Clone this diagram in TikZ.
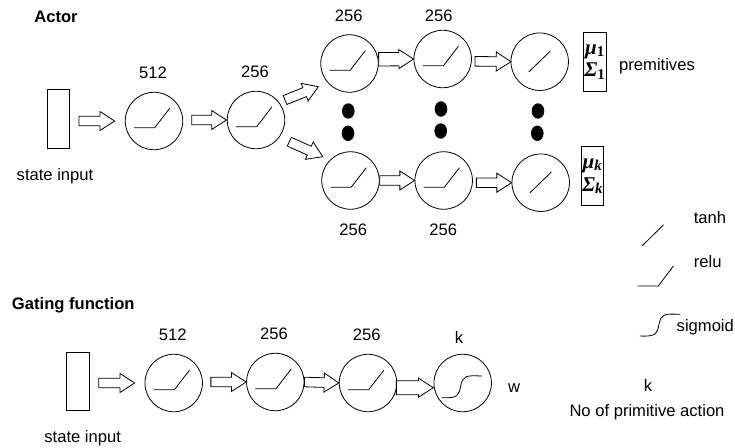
\documentclass[tikz,border=0pt]{standalone}
\usepackage{fontspec}
\setmainfont{Liberation Sans}
\newfontfamily\gk{Liberation Serif}
\usetikzlibrary{calc}
\tikzset{
  x=1pt,y=-1pt,
  every node/.style={inner sep=0pt,font=\fontsize{16.6}{18}\selectfont},
  ttl/.style={font=\fontsize{16.6}{18}\selectfont\bfseries},
  neuron/.style={draw,circle,minimum size=57.5pt,line width=0.8pt},
  inbox/.style={draw,rectangle,minimum width=22.7pt,minimum height=58.5pt,line width=0.8pt},
  outbox/.style={draw,rectangle,minimum width=22.7pt,minimum height=59pt,line width=0.8pt,align=center,font=\fontsize{21}{22.7}\selectfont},
  dotnode/.style={fill=black,circle,minimum size=14pt,xscale=.9,yscale=1.1},
  curve/.style={line width=0.8pt,line cap=round},
  barrow/.style={draw,line width=0.8pt,line join=miter,fill=white,to path={
    let \p1=(\tikztostart),\p2=(\tikztotarget),
        \n1={atan2(\y2-\y1,\x2-\x1)},\n2={veclen(\y2-\y1,\x2-\x1)} in
    ($(\p1)+(\n1+90:#1)$) -- ($(\p1)+(\n1:\n2-14.7pt)+(\n1+90:#1)$)
    -- ($(\p1)+(\n1:\n2-14.7pt)+(\n1+90:9.5pt)$) -- (\p2)
    -- ($(\p1)+(\n1:\n2-14.7pt)+(\n1-90:9.5pt)$)
    -- ($(\p1)+(\n1:\n2-14.7pt)+(\n1-90:#1)$) -- ($(\p1)+(\n1-90:#1)$) -- cycle}},
  barrow/.default=4.8pt,
}
\newcommand{\relu}[1]{\draw[curve] ($(#1)+(-19.7,6.7)$) -- ($(#1)+(0.7,6.7)$) -- ($(#1)+(15.7,-12.7)$);}
\newcommand{\tanhc}[1]{\draw[curve] ($(#1)+(-10.7,10)$) -- ($(#1)+(10.7,-10.7)$);}
\newcommand{\mysig}[1]{\draw[curve] ($(#1)+(-21,14.7)$) .. controls ($(#1)+(-4,15.5)$) and ($(#1)+(-4,12)$) .. ($(#1)+(-2,3)$) .. controls ($(#1)+(0,-8)$) and ($(#1)+(4,-7.5)$) .. ($(#1)+(19,-7)$);}
\newcommand{\gmath}[2]{{\bfseries\gk\fontsize{21}{22.7}\selectfont\itshape #1\raisebox{-2.5pt}{\fontsize{15}{15}\selectfont #2}}}
\begin{document}
\begin{tikzpicture}
\useasboundingbox (0,0) rectangle (735,447);
% Actor
\node[ttl] (tA) at (56,16.7) {Actor};
\node[inbox] (s1) at (58.5,119) {};
\node (sl1) at (55,176.5) {state input};
\node[neuron] (a1) at (154,121) {};
\node[neuron] (a2) at (256,120) {};
\node[neuron] (t1) at (349.5,63.5) {};
\node[neuron] (t2) at (442.7,59) {};
\node[neuron] (t3) at (539.7,61.7) {};
\node[neuron] (b1) at (350.5,180.5) {};
\node[neuron] (b2) at (443.7,180.5) {};
\node[neuron] (b3) at (540.7,182.7) {};
\relu{a1}\relu{a2}\relu{t1}\relu{t2}\tanhc{t3}\relu{b1}\relu{b2}\tanhc{b3}
\node (la1) at (153,73) {512};
\node (la2) at (255,71.7) {256};
\node (lt1) at (348.7,15.7) {256};
\node (lt2) at (438.7,15.7) {256};
\node (lb1) at (353.3,230) {256};
\node (lb2) at (443.3,230) {256};
\node[outbox] (o1) at (594.7,62) {\gmath{μ}{\upshape 1}\\\gmath{Σ}{\upshape 1}};
\node[outbox] (ok) at (592.3,176.2) {\gmath{μ}{k}\\\gmath{Σ}{k}};
\node (prem) at (657,66) {premitives};
\foreach \n/\x/\y in {d1/348.3/111,d2/348/133.3,d3/441/109,d4/440.7/131,d5/538/111,d6/537.3/133.3}
  \node[dotnode] (\n) at (\x,\y) {};
\draw[barrow] ($(s1.east)+(8.7,2)$) to ($(a1.west)+(-10.2,0)$);
\draw[barrow] ($(a1.east)+(8.5,-1)$) to ($(a2.west)+(-0.5,0)$);
\draw[barrow] (285,100) to (318.3,86.7);
\draw[barrow] (289.3,141.7) to (322.7,156.7);
\draw[barrow=6.7pt] ($(t1.east)+(0,-4.2)$) to (t2.west);
\draw[barrow] ($(t2.east)+(3.2,2.3)$) to ($(t3.west)+(0.4,0)$);
\draw[barrow] ($(b1.east)+(0,0)$) to (b2.west);
\draw[barrow] ($(b2.east)+(3.5,2.2)$) to (b3.west);
% legend
\coordinate (lg1) at (642.3,245.7);
\coordinate (lg2) at (663.3,225);
\draw[curve] (lg1) -- (lg2);
\coordinate (lr1) at (637.7,286);
\coordinate (lr2) at (658.3,286);
\coordinate (lr3) at (673.3,266);
\draw[curve] (lr1) -- (lr2) -- (lr3);
\coordinate (ls) at (661,321.3);
\mysig{ls}
\node (ltanh) at (710,218) {tanh};
\node (lrelu) at (707.7,261.7) {relu};
\node (lsig) at (705.3,327.5) {sigmoid};
\node (lk) at (648,385) {k};
\node (lno) at (647,412) {No of primitive action};
% Gating
\node[ttl] (tG) at (73.3,305) {Gating function};
\node[inbox] (s2) at (77.7,381.3) {};
\node (sl2) at (82.7,438.5) {state input};
\node[neuron] (g1) at (173.7,383) {};
\node[neuron] (g2) at (275.3,382) {};
\node[neuron] (g3) at (368,383) {};
\node[neuron] (g4) at (462.7,383) {};
\relu{g1}\relu{g2}\relu{g3}\mysig{g4}
\node (lg1t) at (172.7,334.3) {512};
\node (lg2t) at (274,333.3) {256};
\node (lg3t) at (366.7,334.3) {256};
\node (lg4t) at (459,337.3) {k};
\node (lw) at (514,388.3) {w};
\draw[barrow] ($(s2.east)+(9.3,1.7)$) to ($(g1.west)+(-9.9,0)$);
\draw[barrow] ($(g1.east)+(8,-1)$) to (g2.west);
\draw[barrow] (g2.east) to (g3.west);
\draw[barrow=7pt] ($(g3.east)+(-0.8,4.7)$) to ($(g4.west)+(-0.3,4.7)$);
\end{tikzpicture}
\end{document}
